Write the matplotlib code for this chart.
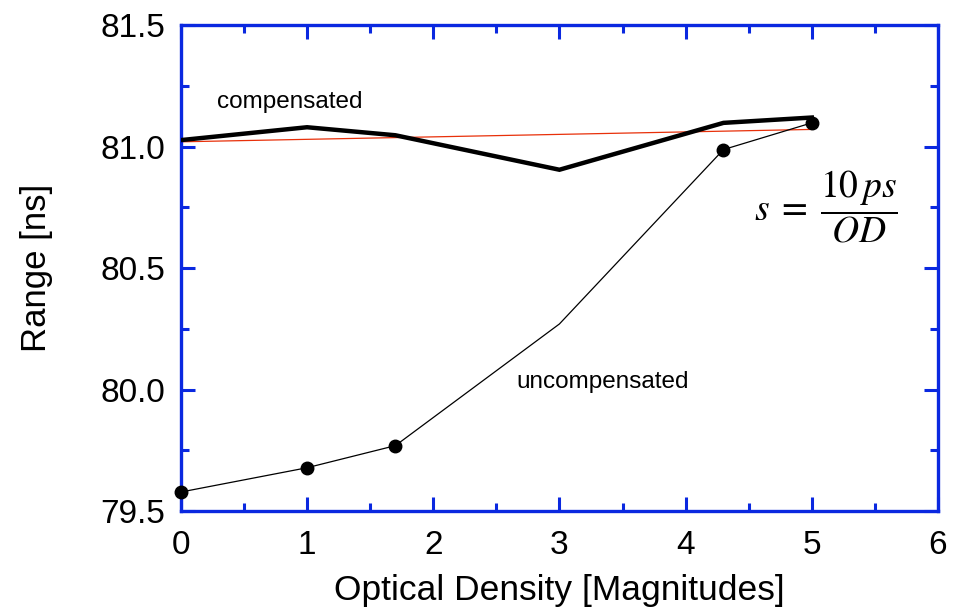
import numpy as np
import matplotlib
matplotlib.use("Agg")
import matplotlib.pyplot as plt
from matplotlib.ticker import MultipleLocator, FormatStrFormatter

plt.rcParams['font.family'] = ['Liberation Sans', 'DejaVu Sans']
plt.rcParams['mathtext.fontset'] = 'stix'

# uncompensated range vs optical density
od_unc = [0, 1, 1.7, 3, 4.3, 5]
rng_unc = [79.578, 79.678, 79.769, 80.27, 80.988, 81.098]
unc_marker = [True, True, True, False, True, True]

# compensated range
od_comp = [0, 1, 1.7, 3, 4.3, 5]
rng_comp = [81.027, 81.08, 81.047, 80.905, 81.098, 81.12]

# linear fit (red)
od_fit = [0, 5]
rng_fit = [81.02, 81.071]

blue = '#0a28e0'

fig = plt.figure(figsize=(9.67, 6.11), dpi=100)
ax = fig.add_axes([0.187, 0.1637, 0.783, 0.795])

ax.plot(od_fit, rng_fit, color='#e8300a', lw=0.9, zorder=2)
ax.plot(od_comp, rng_comp, color='black', lw=3.2, zorder=3, solid_joinstyle='miter')
ax.plot(od_unc, rng_unc, color='black', lw=0.9, zorder=3)
mx = [x for x, m in zip(od_unc, unc_marker) if m]
my = [y for y, m in zip(rng_unc, unc_marker) if m]
ax.plot(mx, my, 'o', color='black', ms=9, zorder=4, clip_on=False)

ax.text(0.29, 81.158, 'compensated', fontsize=17.5, va='baseline')
ax.text(2.66, 80.006, 'uncompensated', fontsize=17.5, va='baseline')
ax.text(5.11, 80.755, r'$s\;=\;\dfrac{10\,ps}{OD}$', fontsize=27, ha='center', va='center')

ax.set_xlim(0, 6)
ax.set_ylim(79.5, 81.5)
ax.xaxis.set_major_locator(MultipleLocator(1))
ax.xaxis.set_minor_locator(MultipleLocator(0.5))
ax.yaxis.set_major_locator(MultipleLocator(0.5))
ax.yaxis.set_minor_locator(MultipleLocator(0.25))
ax.yaxis.set_major_formatter(FormatStrFormatter('%.1f'))

for s in ax.spines.values():
    s.set_color(blue)
    s.set_linewidth(2.4)
ax.tick_params(which='both', direction='in', top=True, right=True, color=blue,
               width=2.2, labelsize=24)
ax.tick_params(axis='x', pad=14)
ax.tick_params(axis='y', pad=11)
ax.tick_params(which='major', length=10)
ax.tick_params(which='minor', length=6)

ax.set_xlabel('Optical Density [Magnitudes]', fontsize=25.5, labelpad=9)
ax.set_ylabel('Range [ns]', fontsize=25, labelpad=34)

fig.savefig('out.png', dpi=100)
